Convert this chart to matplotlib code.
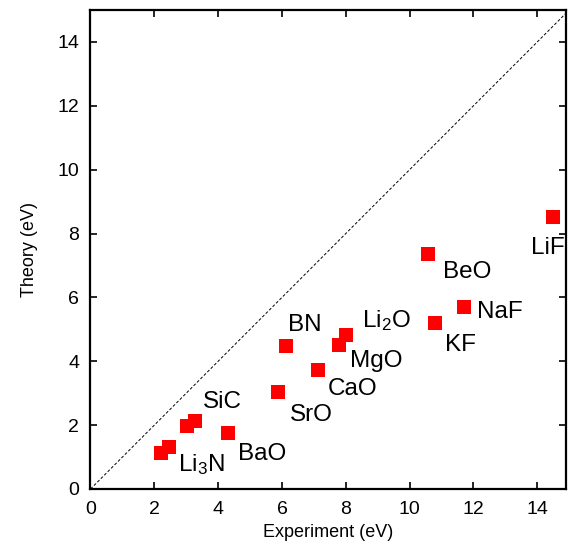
import matplotlib
matplotlib.use("Agg")
import matplotlib.pyplot as plt

plt.rcParams['font.family'] = ['Liberation Sans', 'DejaVu Sans']
plt.rcParams['mathtext.fontset'] = 'custom'
plt.rcParams['mathtext.rm'] = 'Liberation Sans'
plt.rcParams['mathtext.default'] = 'regular'

# experiment vs theory band gaps (eV)
experiment = [2.22, 2.45, 3.03, 3.29, 4.30, 5.89, 7.12, 6.12, 7.80, 8.00, 10.59, 10.81, 11.69, 14.49]
theory = [1.13, 1.32, 1.97, 2.14, 1.76, 3.05, 3.72, 4.47, 4.52, 4.81, 7.35, 5.19, 5.69, 8.51]

labels = ['Li$_3$N', 'SiC', 'BaO', 'SrO', 'CaO', 'BN', 'MgO', 'Li$_2$O', 'BeO', 'KF', 'NaF', 'LiF']
label_x = [3.47, 4.12, 5.38, 6.91, 8.20, 6.72, 8.95, 9.27, 11.80, 11.60, 12.84, 14.34]
label_y = [0.75, 2.72, 1.10, 2.32, 3.13, 5.14, 4.00, 5.26, 6.80, 4.50, 5.54, 7.55]

fig = plt.figure(figsize=(5.68, 5.49), dpi=100)
ax = fig.add_axes([0.1593, 0.1093, 0.8372, 0.8725])

ax.plot([0, 15], [0, 15], color='black', lw=0.7, dashes=(3, 2))
ax.plot(experiment, theory, 's', color='#ff0000', markersize=10.5, markeredgewidth=0)

for lab, lx, ly in zip(labels, label_x, label_y):
    ax.text(lx, ly, lab, fontsize=17.5, ha='center', va='center')

ax.set_xlim(0, 14.9)
ax.set_ylim(0, 15)
ax.set_xticks(range(0, 15, 2))
ax.set_yticks(range(0, 15, 2))
ax.tick_params(direction='in', top=True, right=True, length=5, width=1.2,
               labelsize=14)
ax.tick_params(axis='x', pad=9)
ax.tick_params(axis='y', pad=8)
for s in ax.spines.values():
    s.set_linewidth(1.6)

ax.set_xlabel('Experiment (eV)', fontsize=13, labelpad=4)
ax.set_ylabel('Theory (eV)', fontsize=13, labelpad=14)

fig.savefig('out.png', dpi=100)
